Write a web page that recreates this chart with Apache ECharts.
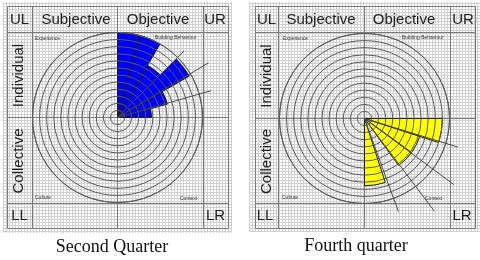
<!DOCTYPE html>
<html><head><meta charset="utf-8">
<script src="https://cdn.jsdelivr.net/npm/echarts@6/dist/echarts.min.js"></script>
<style>html,body{margin:0;padding:0;background:#fff}#c{width:480px;height:260px}</style>
</head><body><div id="c"></div>
<script>
// ---------- data ----------
const ringMax = 12;                       // concentric rings per chart
const panelTitles = ['Second Quarter', 'Fourth quarter'];
const headerLabels = ['UL', 'Subjective', 'Objective', 'UR'];
const sideLabels = ['Individual', 'Collective'];
const footerLabels = ['LL', 'LR'];
const noteLabels = ['Experience', 'Building Behaviour', 'Culture', 'Context'];
// sector boundaries (degrees clockwise from north) and filled radius (rings)
const q2Bounds = [0, 15, 30, 45, 60, 75, 90];
const q2Radius = [12, 12, 8.5, 11.7, 7.3, 4.8];
const q2LineAngles = [45, 59, 74];
const q2LineLengths = [13.3, 15, 13.7];
const q4Bounds = [90, 108, 126, 144, 162, 180];
const q4Radius = [11, 8.2, 8.2, 0, 9.5];
const q4LineAngles = [107, 126.5, 143, 160];
const q4LineLengths = [13.8, 15.7, 16.4, 14];

// ---------- layout ----------
const panels = [
  {x0:7, x1:228, y0:6, y1:228, xa:32, xb:203, ya:32, yb:203, cx:117, cy:117,
   bg:[3,2,229,231], title:[112,247], color:'#0000f5',
   hdr:[19.5,76,158,215], side:19, foot:[19.5,215.5],
   notes:[[35,39,'left'],[155,38,'left'],[35,198,'left'],[180,199,'left']]},
  {x0:255, x1:475, y0:6, y1:228, xa:278, xb:450, ya:32, yb:203, cx:364, cy:118,
   bg:[249,2,231,230], title:[356,246], color:'#ffff00',
   hdr:[266.5,321,404,463], side:267, foot:[265,462],
   notes:[[283,39,'left'],[402,38,'left'],[282,198,'left'],[425,199,'left']]}
];

function tile(){
  const t = document.createElement('canvas'); t.width = 3; t.height = 3;
  const g = t.getContext('2d');
  g.fillStyle = '#ffffff'; g.fillRect(0,0,3,3);
  g.fillStyle = '#d0d0d0'; g.fillRect(0,0,3,1); g.fillRect(0,0,1,3);
  return t;
}
const pat = {image: tile(), repeat: 'repeat'};

const graphics = [];
const lineCol = '#7a7a7a';
panels.forEach((p, pi) => {
  graphics.push({type:'rect', silent:true, z:-10,
    shape:{x:p.bg[0], y:p.bg[1], width:p.bg[2], height:p.bg[3]}, style:{fill:pat}});
  const L = (x1,y1,x2,y2) => graphics.push({type:'line', silent:true, z:1,
    shape:{x1:x1+0.5,y1:y1+0.5,x2:x2+0.5,y2:y2+0.5}, style:{stroke:lineCol, lineWidth:1}});
  [p.x0, p.xa, p.cx, p.xb, p.x1].forEach(x => L(x, p.y0, x, p.y1));
  [p.y0, p.ya, p.cy, p.yb, p.y1].forEach(y => L(p.x0, y, p.x1, y));
  const T = (x, y, text, size, extra) => graphics.push(Object.assign({type:'text', silent:true, z:20, x:x, y:y,
    style:{text:text, fill:'#1e1e1e', font: size + 'px "Liberation Sans", Arial, sans-serif',
      align:'center', verticalAlign:'middle'}}, extra || {}));
  headerLabels.forEach((h, i) => T(p.hdr[i], 19.5, h, 15));
  T(p.side, (p.ya + p.cy) / 2 + 1, sideLabels[0], 15, {rotation: Math.PI / 2});
  T(p.side, (p.cy + p.yb) / 2 + 1, sideLabels[1], 15, {rotation: Math.PI / 2});
  T(p.foot[0], 216, footerLabels[0], 15);
  T(p.foot[1], 216, footerLabels[1], 15);
  noteLabels.forEach((n, i) => graphics.push({type:'text', silent:true, z:20,
    x:p.notes[i][0], y:p.notes[i][1],
    style:{text:n, fill:'#333', font:'5px "Liberation Sans", Arial, sans-serif', align:'left', verticalAlign:'middle'}}));
  graphics.push({type:'text', silent:true, z:20, x:p.title[0], y:p.title[1],
    style:{text:panelTitles[pi], fill:'#111', font:'18px "Liberation Serif", "Times New Roman", serif',
      align:'center', verticalAlign:'middle'}});
});

function sectorData(bounds, radius){
  const out = [];
  for (let i = 0; i < radius.length; i++) if (radius[i] > 0) out.push([bounds[i], bounds[i+1], radius[i]]);
  return out;
}
function lineData(angles, lengths){ return angles.map((a, i) => [a, lengths[i]]); }

function sectorRender(color){
  return function(params, api){
    const a0 = api.value(0), a1 = api.value(1), rv = api.value(2);
    const c = api.coord([0, a0]);
    const p0 = api.coord([rv, a0]), p1 = api.coord([rv, a1]);
    const r = Math.hypot(p0[0]-c[0], p0[1]-c[1]);
    return {type:'sector', shape:{cx:c[0], cy:c[1], r0:0, r:r,
      startAngle:Math.atan2(p0[1]-c[1], p0[0]-c[0]), endAngle:Math.atan2(p1[1]-c[1], p1[0]-c[0]), clockwise:true},
      style:{fill:color, stroke:'#1a1a1a', lineWidth:1}};
  };
}
function lineRender(params, api){
  const a = api.value(0), len = api.value(1);
  const c = api.coord([0, a]), p = api.coord([len, a]);
  return {type:'line', shape:{x1:c[0], y1:c[1], x2:p[0], y2:p[1]}, style:{stroke:'#4a4a4a', lineWidth:1}};
}

const polar = [], radiusAxis = [], angleAxis = [], series = [];
panels.forEach((p, pi) => {
  polar.push({center:[p.cx + 0.5, p.cy + 0.5], radius:85});
  radiusAxis.push({polarIndex:pi, type:'value', min:0, max:ringMax, interval:1, z:8,
    axisLine:{show:false}, axisTick:{show:false}, axisLabel:{show:false},
    splitLine:{show:true, lineStyle:{color:'#5a5a5a', width:1}}});
  angleAxis.push({polarIndex:pi, type:'value', min:0, max:360, startAngle:90, clockwise:true, z:8,
    axisLine:{show:true, lineStyle:{color:'#5a5a5a', width:1}}, axisTick:{show:false}, axisLabel:{show:false},
    splitLine:{show:false}});
});
series.push({type:'custom', coordinateSystem:'polar', polarIndex:0, z:5, encode:{angle:0, radius:2},
  renderItem:sectorRender(panels[0].color), data:sectorData(q2Bounds, q2Radius)});
series.push({type:'custom', coordinateSystem:'polar', polarIndex:1, z:5, encode:{angle:0, radius:2},
  renderItem:sectorRender(panels[1].color), data:sectorData(q4Bounds, q4Radius)});
series.push({type:'custom', coordinateSystem:'polar', polarIndex:0, z:10, encode:{angle:0, radius:1},
  renderItem:lineRender, data:lineData(q2LineAngles, q2LineLengths)});
series.push({type:'custom', coordinateSystem:'polar', polarIndex:1, z:10, encode:{angle:0, radius:1},
  renderItem:lineRender, data:lineData(q4LineAngles, q4LineLengths)});

const chart = echarts.init(document.getElementById('c'), null, {renderer:'canvas'});
chart.setOption({animation:false, backgroundColor:'#fff', polar, radiusAxis, angleAxis, series,
  graphic:{elements:graphics}});
</script></body></html>
